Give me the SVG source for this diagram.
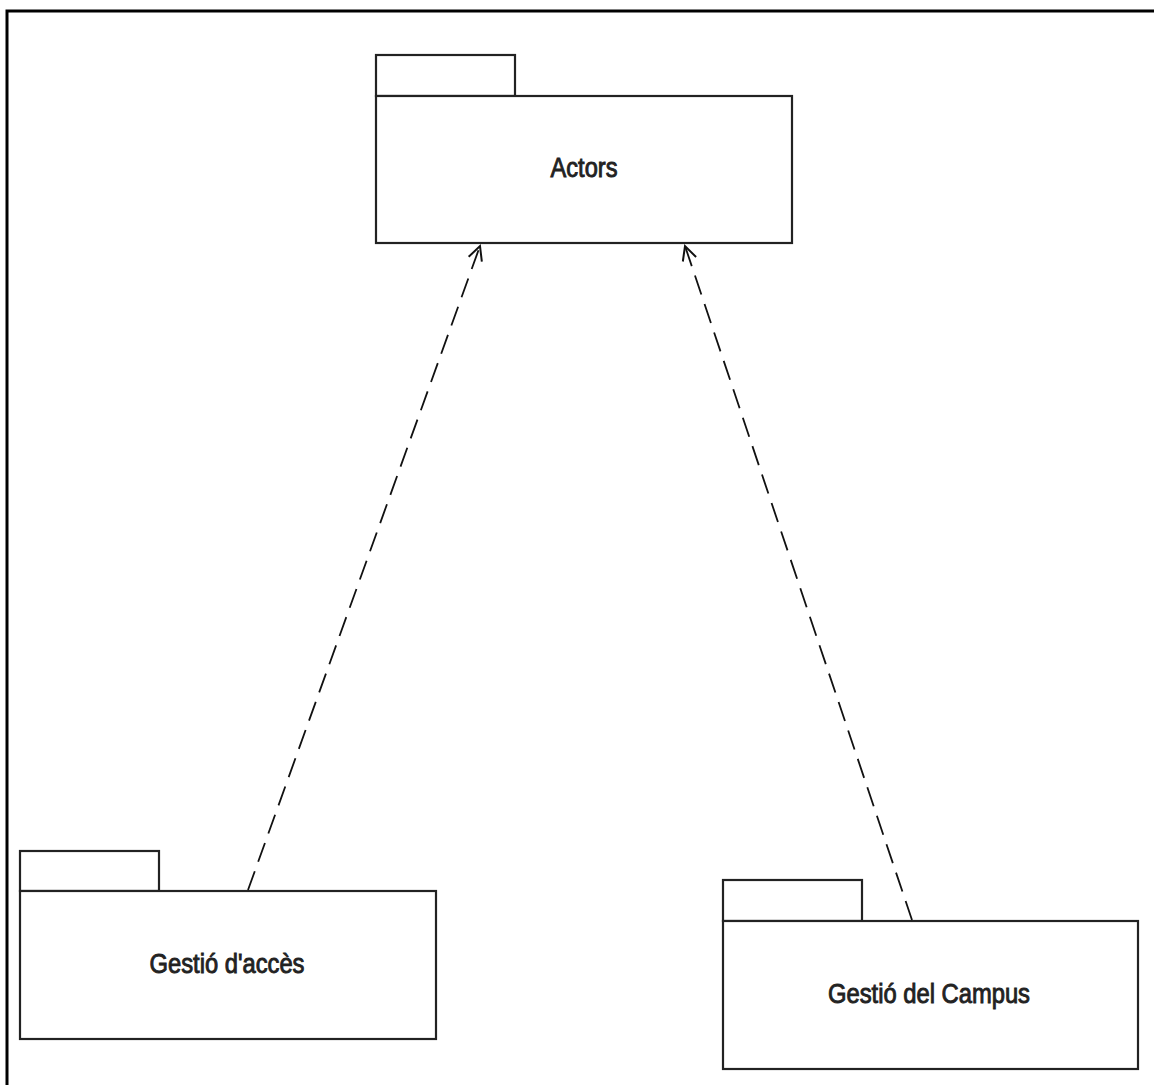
<svg xmlns="http://www.w3.org/2000/svg" width="1154" height="1085" viewBox="0 0 1154 1085">
<style>
.pkg{fill:#fff;stroke:#222;stroke-width:2.2}
.lbl{font-family:"Liberation Sans",Arial,sans-serif;font-size:27px;fill:#222;text-anchor:middle;stroke:#222;stroke-width:0.9}
.dep{fill:none;stroke:#111;stroke-width:1.8;stroke-dasharray:20 10}
.frame{fill:none;stroke:#000;stroke-width:3}
</style>
<defs>
<marker id="open" viewBox="0 0 20 20" refX="18" refY="10" markerWidth="20" markerHeight="20" markerUnits="userSpaceOnUse" orient="auto">
<path d="M4,3 L18,10 L4,17" fill="none" stroke="#111" stroke-width="2"/>
</marker>
</defs>
<rect width="1154" height="1085" fill="#fff"/>
<path class="frame" d="M7,1085 V11 H1154"/>
<g id="actors">
<rect class="pkg" x="376" y="55" width="139" height="41"/>
<rect class="pkg" x="376" y="96" width="416" height="147"/>
<text class="lbl" x="584" y="177" textLength="67" lengthAdjust="spacingAndGlyphs">Actors</text>
</g>
<g id="gestio-acces">
<rect class="pkg" x="20" y="851" width="139" height="40"/>
<rect class="pkg" x="20" y="891" width="416" height="148"/>
<text class="lbl" x="227" y="973" textLength="155" lengthAdjust="spacingAndGlyphs">Gestió d'accès</text>
</g>
<g id="gestio-campus">
<rect class="pkg" x="723" y="880" width="139" height="41"/>
<rect class="pkg" x="723" y="921" width="415" height="148"/>
<text class="lbl" x="929" y="1003" textLength="202" lengthAdjust="spacingAndGlyphs">Gestió del Campus</text>
</g>
<g id="connectors">
<line class="dep" x1="248" y1="890" x2="480" y2="246" marker-end="url(#open)"/>
<line class="dep" x1="912" y1="920" x2="685" y2="246" marker-end="url(#open)"/>
</g>
</svg>
